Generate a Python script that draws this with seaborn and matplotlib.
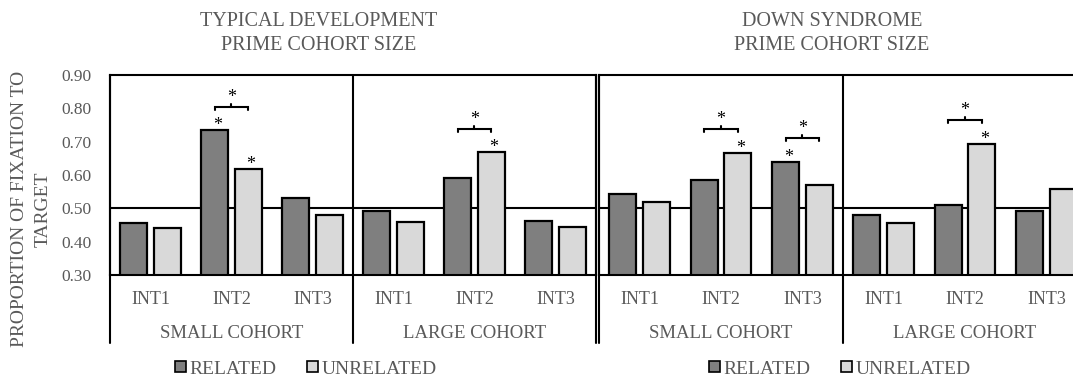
import matplotlib
matplotlib.use("Agg")
import matplotlib.pyplot as plt
import numpy as np
import pandas as pd
import seaborn as sns
from matplotlib.patches import Patch
from matplotlib.transforms import blended_transform_factory

# ---- data -------------------------------------------------------------
intervals = ["INT1", "INT2", "INT3"]
cohorts = ["SMALL COHORT", "LARGE COHORT"]
conditions = ["RELATED", "UNRELATED"]
y_ticks = [0.30, 0.40, 0.50, 0.60, 0.70, 0.80, 0.90]

# slot order: small INT1..INT3, large INT1..INT3
td_related = [0.455, 0.735, 0.532, 0.491, 0.592, 0.462]
td_unrelated = [0.442, 0.619, 0.480, 0.459, 0.669, 0.444]
ds_related = [0.543, 0.585, 0.640, 0.481, 0.511, 0.493]
ds_unrelated = [0.519, 0.667, 0.570, 0.456, 0.694, 0.558]

# significance marks: single bars (slot, condition) and related-vs-unrelated pairs (slot)
td_star_bars = [(1, "RELATED"), (1, "UNRELATED"), (4, "UNRELATED")]
td_pairs = [1, 4]
ds_star_bars = [(1, "UNRELATED"), (2, "RELATED"), (4, "UNRELATED")]
ds_pairs = [1, 2, 4]

# ---- style ------------------------------------------------------------
sns.set_style("white")
plt.rcParams["font.family"] = ["Liberation Serif", "DejaVu Serif"]

DARK = "#7f7f7f"
LIGHT = "#d9d9d9"
GRAY = "#595959"
LW = 1.6

W, H = 1073, 379
fig = plt.figure(figsize=(W / 100, H / 100), dpi=100)


def px_axes(x0, x1, y0, y1):
    return fig.add_axes([x0 / W, 1 - y1 / H, (x1 - x0) / W, (y1 - y0) / H])


def draw_panel(ax, related, unrelated, star_bars, pairs, show_y):
    slots = [f"{c}|{i}" for c in cohorts for i in intervals]
    df = pd.DataFrame({
        "slot": slots * 2,
        "condition": [conditions[0]] * len(slots) + [conditions[1]] * len(slots),
        "value": related + unrelated,
    })
    ax.axhline(0.5, color="black", lw=1.5, zorder=1)
    sns.barplot(data=df, x="slot", y="value", hue="condition", order=slots,
                hue_order=conditions, palette=[DARK, LIGHT], width=0.82, gap=0.19,
                edgecolor="black", linewidth=LW, legend=False, ax=ax, zorder=2)
    ax.set_xlim(-0.5, 5.5)
    ax.set_ylim(0.3, 0.9)
    ax.set_xlabel("")
    ax.set_ylabel("")
    ax.set_xticks([])
    ax.set_yticks(y_ticks)
    if show_y:
        ax.set_yticklabels([f"{v:.2f}" for v in y_ticks])
        ax.tick_params(axis="y", length=0, pad=13, labelsize=12.5, labelcolor=GRAY)
    else:
        ax.tick_params(axis="y", length=0, labelleft=False)
    for sp in ax.spines.values():
        sp.set_visible(True)
        sp.set_color("black")
        sp.set_linewidth(1.5)

    trans = blended_transform_factory(ax.transData, ax.transAxes)
    for i, lab in enumerate(intervals * 2):
        ax.text(i, -0.12, lab, transform=trans, ha="center", va="center",
                fontsize=13, color=GRAY)
    for g, lab in enumerate(cohorts):
        ax.text(g * 3 + 1, -0.29, lab, transform=trans, ha="center", va="center",
                fontsize=13.5, color=GRAY)
    for xb in (-0.5, 2.5, 5.5):
        ax.plot([xb, xb], [-0.34, 1.0], transform=trans, clip_on=False,
                color="black", lw=1.5, zorder=3)

    # bar geometry from the drawn containers
    centers, heights = {}, {}
    for cond, cont in zip(conditions, ax.containers):
        centers[cond] = [b.get_x() + b.get_width() / 2 for b in cont]
        heights[cond] = [b.get_height() for b in cont]

    star_kw = dict(ha="center", va="baseline", fontsize=13, color="black",
                   clip_on=False, zorder=4)
    for slot, cond in star_bars:
        ax.text(centers[cond][slot] + 0.035, heights[cond][slot], "*", **star_kw)
    d = 0.009
    for slot in pairs:
        x1 = centers["RELATED"][slot]
        x2 = centers["UNRELATED"][slot]
        top = max(heights["RELATED"][slot], heights["UNRELATED"][slot])
        yb = top + 0.07
        xm = (x1 + x2) / 2
        ax.plot([x1, x1, x2, x2], [yb - d, yb, yb, yb - d], color="black", lw=1.5,
                solid_joinstyle="miter", clip_on=False, zorder=4)
        ax.plot([xm, xm], [yb, yb + d], color="black", lw=1.5, clip_on=False, zorder=4)
        ax.text(xm, yb + 0.015, "*", **star_kw)


ax_td = px_axes(110, 596, 75, 275)
ax_ds = px_axes(599, 1087, 75, 275)
draw_panel(ax_td, td_related, td_unrelated, td_star_bars, td_pairs, True)
draw_panel(ax_ds, ds_related, ds_unrelated, ds_star_bars, ds_pairs, False)

# titles
title_kw = dict(ha="center", va="center", fontsize=14.5, color=GRAY)
fig.text(319 / W, 1 - 21 / H, "TYPICAL DEVELOPMENT", **title_kw)
fig.text(319 / W, 1 - 46 / H, "PRIME COHORT SIZE", **title_kw)
fig.text(832 / W, 1 - 21 / H, "DOWN SYNDROME", **title_kw)
fig.text(832 / W, 1 - 46 / H, "PRIME COHORT SIZE", **title_kw)

# y-axis title
ylab_kw = dict(ha="center", va="center", rotation=90, fontsize=14, color=GRAY)
fig.text(20 / W, 1 - 209 / H, "PROPORTION OF FIXATION TO", **ylab_kw)
fig.text(43 / W, 1 - 209 / H, "TARGET", **ylab_kw)

# legends
handles = [Patch(facecolor=DARK, edgecolor="black", lw=1.2),
           Patch(facecolor=LIGHT, edgecolor="black", lw=1.2)]
for cx in (306, 840):
    fig.legend(handles=handles, labels=conditions, loc="center",
               bbox_to_anchor=(cx / W, 1 - 369 / H), ncol=2, frameon=False,
               handlelength=0.55, handleheight=0.55, handletextpad=0.2,
               columnspacing=1.55, fontsize=14, labelcolor=GRAY,
               borderaxespad=0, borderpad=0)

fig.savefig("out.png", dpi=100)
